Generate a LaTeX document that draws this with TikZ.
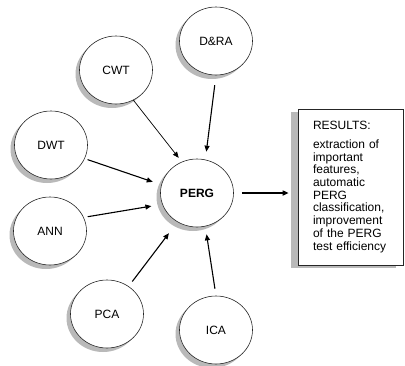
\documentclass[tikz,border=0pt]{standalone}
\usepackage{fontspec}
\setmainfont{Liberation Sans}
\usetikzlibrary{arrows.meta,shapes.geometric,shadows}

\begin{document}
\begin{tikzpicture}[x=1pt,y=-1pt,>={Triangle[length=6pt,width=5pt]},
  method/.style={ellipse,draw=black!85,line width=0.6pt,fill=white,minimum width=73pt,minimum height=68pt,inner sep=0pt,
    font=\fontsize{12}{14}\selectfont,drop shadow={shadow xshift=-4pt,shadow yshift=-4pt,fill=gray!55,opacity=1}},
  feed/.style={->,line width=1.1pt}]
\useasboundingbox (0,0) rectangle (405,365);
% methods around the centre
\node[method] (DRA) at (216,41) {D\&RA};
\node[method] (CWT) at (116,70) {CWT};
\node[method] (DWT) at (51,145) {DWT};
\node[method] (ANN) at (50,231) {ANN};
\node[method] (PCA) at (107,314) {PCA};
\node[method] (ICA) at (216,330) {ICA};
\node[method,font=\bfseries\fontsize{12}{14}\selectfont] (PERG) at (197,193) {PERG};
\node[draw=black!85,line width=0.6pt,fill=white,align=left,text width=75pt,inner xsep=15pt,minimum height=156pt,
  font=\fontsize{12}{12.7}\selectfont,drop shadow={shadow xshift=-7pt,shadow yshift=-3pt,fill=gray!55,opacity=1}]
  (RES) at (350.5,187) {RESULTS:\\[6pt] extraction of\\ important\\ features,\\ automatic\\ PERG\\ classification,\\ improvement\\ of the PERG\\ test efficiency};
% arrows into PERG
\draw[feed,shorten <=10pt,shorten >=8pt] (DRA.-90) -- (PERG.76);
\draw[->,line width=0.7pt,shorten >=5pt] (CWT.-60) -- (PERG.116);
\draw[feed,shorten <=3pt,shorten >=9pt] (DWT.-22) -- (PERG.167);
\draw[feed,shorten <=4pt,shorten >=11pt] (ANN.22) -- (PERG.198);
\draw[feed,shorten <=6pt,shorten >=14pt] (PCA.52) -- (PERG.236);
\draw[feed,shorten <=7pt,shorten >=8pt] (ICA.90) -- (PERG.-76);
\draw[->,line width=1.5pt,shorten <=8pt,shorten >=9pt] (PERG.east) -- (PERG.east -| RES.west);
\end{tikzpicture}
\end{document}
